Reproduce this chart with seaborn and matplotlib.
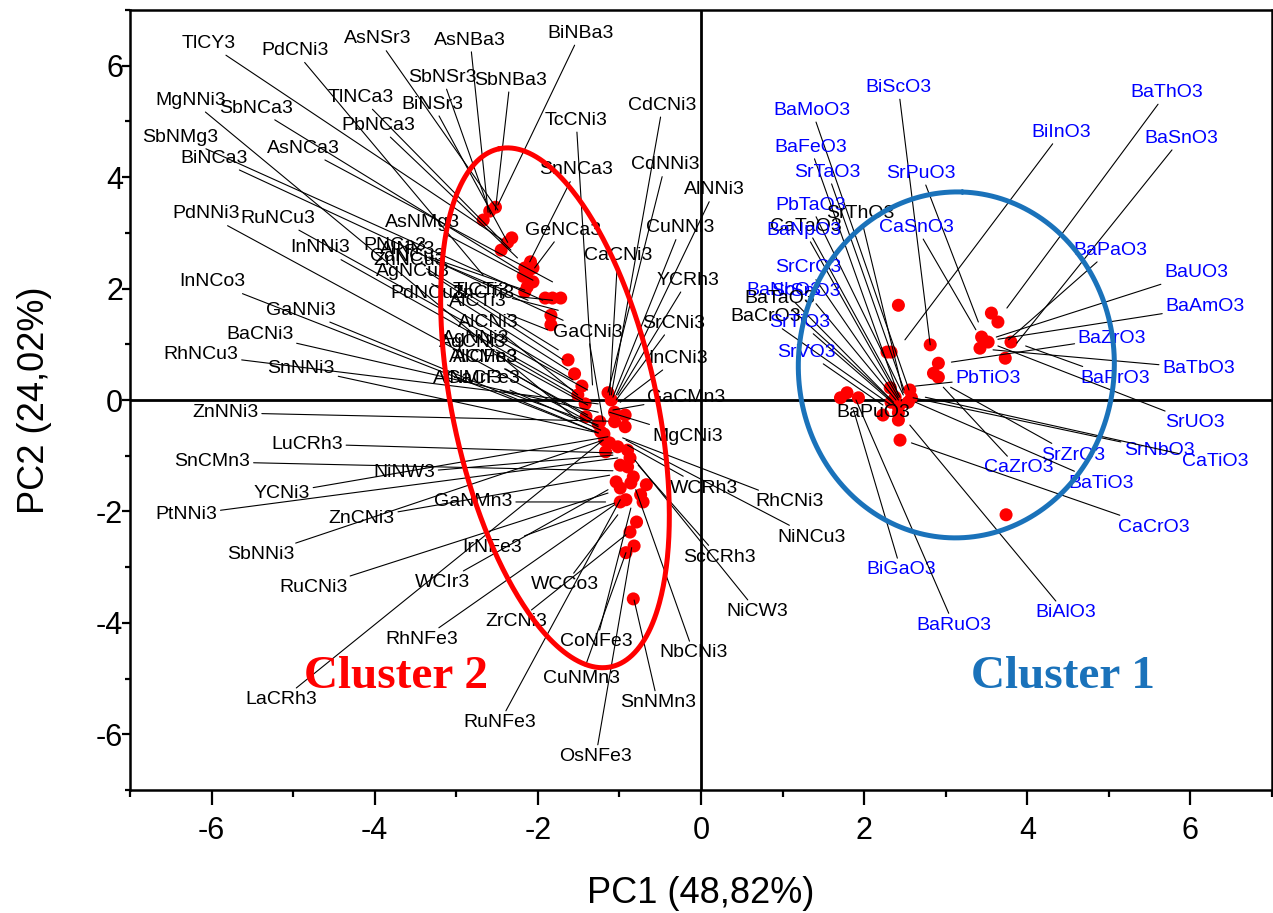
import numpy as np
import pandas as pd
import matplotlib
matplotlib.use("Agg")
import matplotlib.pyplot as plt
import seaborn as sns

# ---------------- data ----------------
# cluster 2 (nitrides / carbides) scores
c2_pc1 = [-2.67, -2.59, -2.52, -2.45, -2.37, -2.32, -2.16, -2.09, -2.06, -2.18, -2.12, -2.16, -2.13,
          -2.06, -1.91, -1.82, -1.72, -1.84, -1.84, -1.63, -1.55, -1.46, -1.51, -1.42, -1.41, -1.14,
          -1.10, -1.06, -1.06, -0.93, -0.93, -1.24, -1.23, -1.18, -1.17, -1.12, -1.02, -0.90, -0.87,
          -0.99, -0.90, -0.83, -0.86, -1.04, -0.99, -0.99, -0.92, -0.67, -0.74, -0.71, -0.79, -0.87,
          -0.82, -0.92, -0.83, -1.26, -1.19]
c2_pc2 = [3.23, 3.39, 3.46, 2.69, 2.83, 2.91, 2.37, 2.48, 2.37, 2.22, 2.31, 1.94, 2.03,
          2.12, 1.83, 1.83, 1.83, 1.52, 1.35, 0.72, 0.47, 0.25, 0.09, -0.07, -0.30, 0.13,
          0.00, -0.22, -0.39, -0.27, -0.48, -0.39, -0.57, -0.72, -0.93, -0.77, -0.84, -0.90, -1.04,
          -1.17, -1.20, -1.38, -1.49, -1.47, -1.58, -1.83, -1.79, -1.52, -1.70, -1.83, -2.19, -2.37,
          -2.62, -2.74, -3.57, -0.43, -0.61]
# cluster 1 (perovskite oxides) scores
c1_pc1 = [2.42, 2.33, 2.28, 2.81, 2.91, 2.85, 2.91, 3.56, 3.64, 3.44, 3.52, 3.42, 3.80, 3.73,
          1.71, 1.79, 1.93, 2.32, 2.38, 2.33, 2.42, 2.56, 2.58, 2.54, 2.23, 2.42, 2.42, 2.44, 3.74]
c1_pc2 = [1.70, 0.86, 0.86, 0.99, 0.66, 0.48, 0.41, 1.56, 1.40, 1.13, 1.04, 0.93, 1.04, 0.75,
          0.04, 0.13, 0.04, 0.22, 0.05, -0.04, -0.13, 0.18, 0.04, -0.04, -0.27, -0.23, -0.36, -0.72, -2.06]

# labels of cluster 2: name, label position (PC1, PC2), compound position (PC1, PC2)
c2_names = ["TlCY3", "PdCNi3", "AsNSr3", "AsNBa3", "BiNBa3", "SbNSr3", "SbNBa3", "TlNCa3", "BiNSr3",
            "PbNCa3", "MgNNi3", "SbNCa3", "SbNMg3", "BiNCa3", "AsNCa3", "PNCa3", "AlNY3", "AsNMg3",
            "CdNCu3", "ZnNCu3", "AgNCu3", "PdNCu3", "TlCTi3", "ZnCTi3", "AlCTi3", "AlCNi3", "AgNNi3",
            "AgCNi3", "AlCMn3", "AlCFe3", "AlNMn3", "GaCFe3",
            "SnNCa3", "GeNCa3", "TcCNi3", "CdCNi3", "CdNNi3", "AlNNi3", "CuNNi3", "CaCNi3", "YCRh3",
            "GaCNi3", "SrCNi3", "InCNi3", "GaCMn3", "MgCNi3", "WCRh3", "RhCNi3", "NiNCu3", "ScCRh3",
            "NiCW3", "NbCNi3", "SnNMn3", "OsNFe3", "RuNFe3", "CuNMn3", "CoNFe3", "ZrCNi3", "WCCo3",
            "RhNFe3", "LaCRh3", "WCIr3", "IrNFe3", "RuCNi3", "SbNNi3", "ZnCNi3", "GaNMn3", "PtNNi3",
            "YCNi3", "NiNW3", "SnCMn3", "LuCRh3", "ZnNNi3", "SnNNi3", "RhNCu3", "BaCNi3", "GaNNi3",
            "InNCo3", "InNNi3", "RuNCu3", "PdNNi3"]
c2_label_pos = [(-6.04, 6.40), (-4.98, 6.27), (-3.96, 6.48), (-2.83, 6.46), (-1.48, 6.58), (-3.17, 5.79),
                (-2.34, 5.74), (-4.17, 5.43), (-3.29, 5.31), (-3.96, 4.93), (-6.25, 5.38), (-5.46, 5.24),
                (-6.39, 4.72), (-5.97, 4.34), (-4.88, 4.52), (-3.75, 2.78), (-3.60, 2.71), (-3.41, 3.19),
                (-3.60, 2.57), (-3.57, 2.51), (-3.53, 2.30), (-3.35, 1.92), (-2.70, 1.97), (-2.67, 1.92),
                (-2.74, 1.76), (-2.61, 1.40), (-2.76, 1.11), (-2.80, 1.04), (-2.67, 0.77), (-2.64, 0.77),
                (-2.86, 0.39), (-2.67, 0.39),
                (-1.53, 4.13), (-1.69, 3.05), (-1.53, 5.02), (-0.47, 5.29), (-0.44, 4.22), (0.17, 3.77),
                (-0.25, 3.09), (-1.02, 2.60), (-0.16, 2.15), (-1.39, 1.22), (-0.34, 1.38), (-0.28, 0.75),
                (-0.18, 0.05), (-0.16, -0.65), (0.04, -1.58), (1.08, -1.83), (1.36, -2.46), (0.22, -2.82),
                (0.69, -3.80), (-0.09, -4.54), (-0.53, -5.43), (-1.29, -6.40), (-2.47, -5.79), (-1.47, -4.99),
                (-1.28, -4.34), (-2.26, -3.98), (-1.67, -3.32), (-3.42, -4.30), (-5.14, -5.38), (-3.17, -3.28),
                (-2.56, -2.65), (-4.75, -3.37), (-5.40, -2.78), (-4.16, -2.12), (-2.79, -1.83), (-6.31, -2.06),
                (-5.14, -1.67), (-3.64, -1.31), (-5.99, -1.11), (-4.83, -0.79), (-5.83, -0.23), (-4.90, 0.57),
                (-6.13, 0.81), (-5.41, 1.17), (-4.90, 1.61), (-5.99, 2.12), (-4.67, 2.73), (-5.19, 3.26),
                (-6.07, 3.34)]
c2_compound_pos = [(-2.43, 2.87), (-2.67, 2.24), (-2.49, 3.41), (-2.61, 3.37), (-2.49, 3.50), (-2.58, 3.34),
                   (-2.52, 3.41), (-2.33, 2.69), (-2.37, 2.83), (-2.25, 2.55), (-1.51, -0.36), (-2.23, 2.33),
                   (-1.94, 1.79), (-1.69, 1.43), (-1.82, 2.12), (-2.16, 1.97), (-2.12, 1.79), (-2.06, 2.15),
                   (-1.75, 0.90), (-1.69, 0.72), (-1.63, 0.54), (-1.57, 0.36), (-1.75, 1.61), (-1.82, 1.79),
                   (-1.88, 1.26), (-1.51, 0.09), (-1.45, 0.00), (-1.39, -0.09), (-1.39, -0.27), (-1.33, -0.36),
                   (-1.26, -0.45), (-1.23, -0.54),
                   (-2.10, 2.48), (-2.04, 2.37), (-1.33, 0.27), (-1.10, 0.09), (-1.14, 0.14), (-1.04, 0.09),
                   (-1.08, 0.05), (-1.12, 0.09), (-1.02, 0.09), (-1.20, -0.39), (-1.04, 0.00), (-0.99, -0.04),
                   (-1.08, -0.18), (-1.12, -0.22), (-0.90, -0.81), (-0.96, -0.68), (-0.92, -0.72), (-0.77, -1.17),
                   (-0.81, -1.08), (-0.80, -1.61), (-0.82, -3.59), (-0.85, -2.65), (-0.99, -1.79), (-0.92, -2.74),
                   (-0.86, -1.94), (-0.92, -2.42), (-1.02, -2.06), (-1.06, -1.88), (-1.20, -0.72), (-1.14, -1.61),
                   (-1.06, -1.85), (-1.14, -1.67), (-1.20, -0.72), (-1.12, -1.35), (-1.17, -1.83), (-1.02, -1.04),
                   (-1.14, -0.66), (-1.08, -0.99), (-1.08, -1.27), (-1.08, -0.95), (-1.14, -0.38), (-1.26, -0.59),
                   (-1.26, -0.07), (-1.26, -0.22), (-1.29, -0.57), (-1.26, -0.59), (-1.57, 0.18), (-1.39, 0.18),
                   (-1.26, -0.48)]

# labels of cluster 1 (most written in blue, a few in black)
c1_names = ["BiScO3", "BaMoO3", "BaThO3", "BiInO3", "BaSnO3", "BaFeO3", "SrTaO3", "SrPuO3", "PbTaO3",
            "SrThO3", "CaTaO3", "BaNpO3", "CaSnO3", "BaPaO3", "SrCrO3", "BaNbO3", "SrSnO3", "BaTaO3",
            "BaCrO3", "SrTiO3", "SrVO3", "BaUO3", "BaAmO3", "BaZrO3", "BaTbO3", "BaPrO3", "PbTiO3",
            "SrUO3", "SrNbO3", "CaTiO3", "SrZrO3", "CaZrO3", "BaTiO3", "CaCrO3", "BiGaO3", "BaRuO3",
            "BiAlO3"]
c1_black = ["SrThO3", "CaTaO3", "BaTaO3", "BaCrO3"]
c1_label_pos = [(2.42, 5.61), (1.36, 5.20), (5.71, 5.52), (4.42, 4.81), (5.89, 4.70), (1.34, 4.54),
                (1.55, 4.09), (2.70, 4.07), (1.34, 3.50), (1.95, 3.35), (1.29, 3.12), (1.26, 3.05),
                (2.64, 3.10), (5.02, 2.69), (1.31, 2.37), (1.01, 1.96), (1.29, 1.94), (0.96, 1.83),
                (0.79, 1.49), (1.21, 1.40), (1.29, 0.86), (6.07, 2.28), (6.18, 1.67), (5.04, 1.11),
                (6.10, 0.57), (5.08, 0.39), (3.52, 0.39), (6.06, -0.41), (5.62, -0.90), (6.31, -1.11),
                (4.56, -0.99), (3.89, -1.22), (4.91, -1.49), (5.55, -2.28), (2.45, -3.05), (3.10, -4.04),
                (4.47, -3.82)]
c1_compound_pos = [(2.81, 0.99), (2.55, 0.18), (3.75, 1.65), (2.50, 1.08), (3.87, 1.02), (2.42, 0.09),
                   (2.49, 0.18), (3.40, 1.40), (2.48, 0.09), (2.48, 0.13), (2.44, 0.05), (2.42, 0.04),
                   (3.37, 1.26), (3.77, 1.08), (2.42, 0.00), (2.36, -0.04), (2.39, 0.00), (2.33, 0.00),
                   (2.33, -0.09), (2.38, -0.09), (2.23, -0.09), (3.62, 1.13), (3.64, 1.09), (3.07, 0.68),
                   (3.58, 0.90), (3.98, 0.97), (2.63, 0.25), (3.64, 0.97), (2.60, 0.04), (2.75, 0.05),
                   (3.06, 0.23), (2.97, 0.23), (2.63, -0.04), (2.58, -0.77), (1.87, -0.18), (1.90, 0.00),
                   (2.56, -0.45)]
# label written on top of its point (no leader line)
plain_names = ["BaPuO3"]
plain_pos = [(2.11, -0.22)]

cluster_names = ["Cluster 2", "Cluster 1"]
cluster_text_pos = [(-3.74, -4.97), (4.44, -4.97)]
# ellipse outlines: centre (PC1, PC2), semi-axes and tilt (in screen pixels / degrees)
ellipse_centres = [(-1.79, -0.14), (3.13, 0.63)]
ellipse_semi_axes = [(265, 102), (173, 158)]
ellipse_tilt_deg = [12.2, -2.0]

x_label = "PC1 (48,82%)"
y_label = "PC2 (24,02%)"

# ---------------- plot ----------------
sns.set_style("ticks")
plt.rcParams["font.family"] = ["Liberation Sans", "DejaVu Sans"]
plt.rcParams["axes.unicode_minus"] = False
plt.rcParams["text.color"] = "black"
plt.rcParams["axes.labelcolor"] = "black"
plt.rcParams["xtick.color"] = "black"
plt.rcParams["ytick.color"] = "black"

RED = "#FF0000"
BLUE_C = "#1A72BA"
BLUE_T = "#0000FF"

W, H, DPI = 12.73, 9.13, 100
fig = plt.figure(figsize=(W, H), dpi=DPI)
ax = fig.add_axes([130 / 1273, 1 - 790 / 913, 1142 / 1273, 780 / 913])

df = pd.DataFrame({"PC1": c2_pc1 + c1_pc1,
                   "PC2": c2_pc2 + c1_pc2,
                   "cluster": ["Cluster 2"] * len(c2_pc1) + ["Cluster 1"] * len(c1_pc1)})
sns.scatterplot(data=df, x="PC1", y="PC2", color=RED, s=88, edgecolor="none",
                legend=False, ax=ax, zorder=2)

ax.set_xlim(-7, 7)
ax.set_ylim(-7, 7)

ax.axhline(0, color="black", lw=2.0, zorder=1)
ax.axvline(0, color="black", lw=2.0, zorder=1)

lab_fs = 14
def draw_labels(names, lpos, cpos, colorfn):
    for n, (lx, ly), (cx, cy) in zip(names, lpos, cpos):
        ax.annotate(n, xy=(cx, cy), xytext=(lx, ly), textcoords="data",
                    ha="center", va="center", fontsize=lab_fs, color=colorfn(n),
                    arrowprops=dict(arrowstyle="-", color="black", lw=0.8,
                                    shrinkA=0, shrinkB=0),
                    zorder=3)

draw_labels(c2_names, c2_label_pos, c2_compound_pos, lambda n: "black")
draw_labels(c1_names, c1_label_pos, c1_compound_pos,
            lambda n: "black" if n in c1_black else BLUE_T)
for n, (px, py) in zip(plain_names, plain_pos):
    ax.text(px, py, n, ha="center", va="center", fontsize=lab_fs, color="black", zorder=3)

# ellipses
sx = (1142 / 1273) * W * DPI / 14.0
sy = (780 / 913) * H * DPI / 14.0
t = np.linspace(0, 2 * np.pi, 400)
for (cx, cy), (a, b), th, col in zip(ellipse_centres, ellipse_semi_axes, ellipse_tilt_deg, [RED, BLUE_C]):
    th = np.deg2rad(th)
    major = np.array([-np.sin(th), np.cos(th)])
    minor = np.array([np.cos(th), np.sin(th)])
    px = a * np.cos(t) * major[0] + b * np.sin(t) * minor[0]
    py = a * np.cos(t) * major[1] + b * np.sin(t) * minor[1]
    ax.plot(cx + px / sx, cy + py / sy, color=col, lw=3.6, zorder=4, solid_capstyle="round")

for name, (tx, ty), col in zip(cluster_names, cluster_text_pos, [RED, BLUE_C]):
    ax.text(tx, ty, name, ha="center", va="center", fontsize=34, fontweight="bold",
            color=col, family=["Liberation Serif", "DejaVu Serif"], zorder=5)

# axes styling
for sp in ax.spines.values():
    sp.set_linewidth(1.8)
    sp.set_color("black")
ax.set_xticks([-6, -4, -2, 0, 2, 4, 6])
ax.set_yticks([-6, -4, -2, 0, 2, 4, 6])
ax.set_xticks([-7, -5, -3, -1, 1, 3, 5, 7], minor=True)
ax.set_yticks([-7, -5, -3, -1, 1, 3, 5, 7], minor=True)
ax.tick_params(axis="x", which="major", direction="out", length=10.5, width=1.6,
               labelsize=22, pad=8)
ax.tick_params(axis="x", which="minor", direction="out", length=5, width=1.6)
ax.tick_params(axis="y", which="major", direction="out", length=6, width=1.6,
               labelsize=22, pad=-1)
ax.tick_params(axis="y", which="minor", direction="out", length=3.5, width=1.6)
ax.set_xlabel(x_label, fontsize=26)
ax.set_ylabel(y_label, fontsize=26)
ax.xaxis.set_label_coords(0.5, (790 - 876) / 780)
ax.yaxis.set_label_coords((52 - 130) / 1142, 0.5)

fig.savefig("out.png", dpi=DPI)
